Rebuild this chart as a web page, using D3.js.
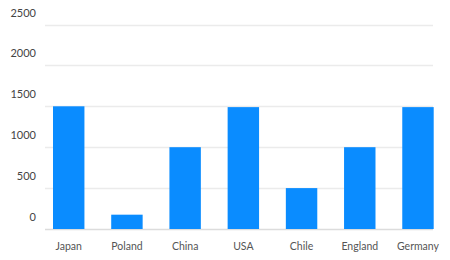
<!DOCTYPE html>
<html>
<head>
<meta charset="utf-8">
<script src="https://cdn.jsdelivr.net/npm/d3@7"></script>
<style>
  body { margin: 0; background: #fff; }
  text { font-family: Lato, "Open Sans", sans-serif; }
</style>
</head>
<body>
<div id="chart"></div>
<script>
// data
let countries = ["Japan", "Poland", "China", "USA", "Chile", "England", "Germany"];
let values = [1500, 175, 1000, 1490, 500, 1000, 1490];
let yTicks = [0, 500, 1000, 1500, 2000, 2500];

let width = 450, height = 260;

let svg = d3.select("#chart")
    .append("svg")
    .attr("width", width)
    .attr("height", height);

let x = d3.scaleBand()
    .domain(countries)
    .range([53, 433.7])
    .paddingInner(0.46)
    .paddingOuter(0);

let y = d3.scaleLinear()
    .domain([0, 2500])
    .range([229, 24.5]);

// gridlines
svg.append("g")
    .selectAll("line")
    .data(yTicks)
    .enter()
    .append("line")
    .attr("x1", 45)
    .attr("x2", 433)
    .attr("y1", d => Math.round(y(d)) + 0.5)
    .attr("y2", d => Math.round(y(d)) + 0.5)
    .attr("stroke", d => d === 0 ? "#dcdcdc" : "#ebebeb")
    .attr("stroke-width", 1.5);

// y labels sit above their gridline
svg.append("g")
    .selectAll("text")
    .data(yTicks)
    .enter()
    .append("text")
    .attr("x", 36)
    .attr("y", d => y(d) - 8)
    .attr("text-anchor", "end")
    .style("font-size", "11px")
    .attr("fill", "#444")
    .text(d => d);

// bars
svg.append("g")
    .selectAll("rect")
    .data(countries)
    .enter()
    .append("rect")
    .attr("x", d => x(d))
    .attr("width", x.bandwidth())
    .attr("y", (d, i) => y(values[i]))
    .attr("height", (d, i) => y(0) - y(values[i]))
    .attr("fill", "#0a8cff");

// x labels
let xAxis = svg.append("g")
    .attr("transform", "translate(0,229)")
    .call(d3.axisBottom(x).tickSize(0).tickPadding(13.5));
xAxis.select(".domain").remove();
xAxis.selectAll("text")
    .style("font-size", "10.5px")
    .style("font-family", "Lato, sans-serif")
    .attr("fill", "#555");
</script>
</body>
</html>
